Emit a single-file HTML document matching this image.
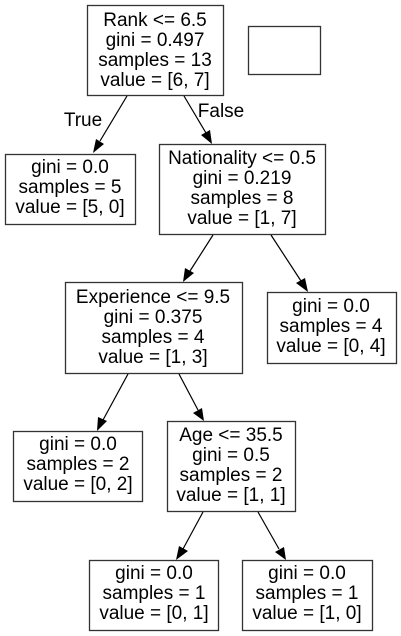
<!DOCTYPE html>
<html><head><meta charset="utf-8"><style>
html,body{margin:0;padding:0;background:#fff;}
svg{display:block;}
text{font-family:"Liberation Sans",Arial,sans-serif;font-size:19px;fill:#000;text-anchor:middle;}
rect{fill:#fff;stroke:#333;stroke-width:1.3;}
line{stroke:#000;stroke-width:1.2;}
polygon{fill:#000;}
</style></head><body>
<svg width="401" height="636" viewBox="0 0 401 636">
<rect x="87.5" y="5.5" width="136" height="90"/>
<text x="155" y="26">Rank &lt;= 6.5</text>
<text x="155" y="46">gini = 0.497</text>
<text x="155" y="66">samples = 13</text>
<text x="155" y="86">value = [6, 7]</text>
<rect x="248.5" y="26.5" width="72" height="48"/>
<line x1="127" y1="96" x2="100" y2="141"/>
<polygon points="93,153 96,139 104,144"/>
<text x="83" y="126">True</text>
<line x1="184" y1="96" x2="206" y2="133"/>
<polygon points="212,144 201,135 210,130"/>
<text x="221" y="117">False</text>
<rect x="5.5" y="154.5" width="130" height="70"/>
<text x="70" y="173">gini = 0.0</text>
<text x="70" y="193">samples = 5</text>
<text x="70" y="213">value = [5, 0]</text>
<rect x="159.5" y="144.5" width="166" height="90"/>
<text x="242" y="164">Nationality &lt;= 0.5</text>
<text x="242" y="184">gini = 0.219</text>
<text x="242" y="204">samples = 8</text>
<text x="242" y="224">value = [1, 7]</text>
<line x1="213" y1="235" x2="190" y2="271"/>
<polygon points="183,282 185,268 194,273"/>
<line x1="271" y1="235" x2="301" y2="281"/>
<polygon points="308,292 296,283 305,278"/>
<rect x="65.5" y="282.5" width="177" height="91"/>
<text x="153" y="303">Experience &lt;= 9.5</text>
<text x="153" y="323">gini = 0.375</text>
<text x="153" y="343">samples = 4</text>
<text x="153" y="363">value = [1, 3]</text>
<rect x="267.5" y="292.5" width="129" height="71"/>
<text x="331" y="312">gini = 0.0</text>
<text x="331" y="332">samples = 4</text>
<text x="331" y="352">value = [0, 4]</text>
<line x1="128" y1="374" x2="103" y2="420"/>
<polygon points="97,431 98,417 107,421"/>
<line x1="179" y1="374" x2="198" y2="410"/>
<polygon points="204,421 193,413 202,408"/>
<rect x="13.5" y="431.5" width="129" height="70"/>
<text x="78" y="450">gini = 0.0</text>
<text x="78" y="470">samples = 2</text>
<text x="78" y="490">value = [0, 2]</text>
<rect x="167.5" y="421.5" width="128" height="90"/>
<text x="231" y="441">Age &lt;= 35.5</text>
<text x="231" y="461">gini = 0.5</text>
<text x="231" y="481">samples = 2</text>
<text x="231" y="501">value = [1, 1]</text>
<line x1="203" y1="512" x2="183" y2="549"/>
<polygon points="176,560 179,546 188,551"/>
<line x1="258" y1="512" x2="279" y2="549"/>
<polygon points="286,560 275,552 284,547"/>
<rect x="89.5" y="560.5" width="129" height="70"/>
<text x="154" y="579">gini = 0.0</text>
<text x="154" y="599">samples = 1</text>
<text x="154" y="619">value = [0, 1]</text>
<rect x="242.5" y="560.5" width="130" height="70"/>
<text x="307" y="579">gini = 0.0</text>
<text x="307" y="599">samples = 1</text>
<text x="307" y="619">value = [1, 0]</text>
</svg>
</body></html>
